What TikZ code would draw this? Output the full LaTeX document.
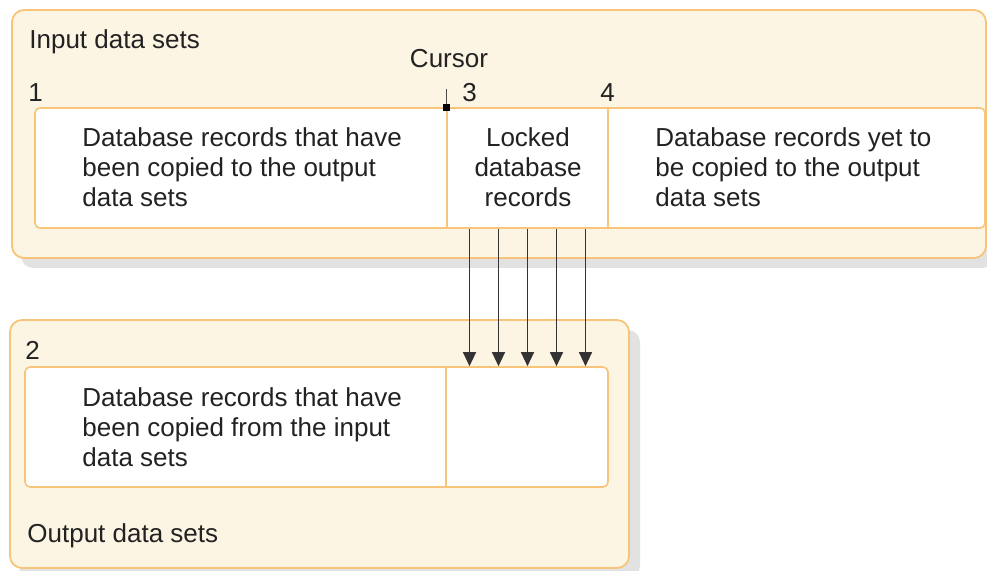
\documentclass[tikz,border=0pt]{standalone}
\usepackage{fontspec}
\setmainfont{Liberation Sans}
\usetikzlibrary{arrows.meta}

\definecolor{panelfill}{HTML}{FDF5E4}
\definecolor{paneledge}{HTML}{F7C47A}
\definecolor{shadowgray}{HTML}{E2E2E2}
\definecolor{inkgray}{HTML}{222222}

\begin{document}
\begin{tikzpicture}[x=0.5pt, y=-0.5pt,
    panel/.style={draw=paneledge, fill=panelfill, line width=0.9pt, rounded corners=6pt},
    shade/.style={fill=shadowgray, rounded corners=6pt},
    frame/.style={draw=paneledge, fill=white, line width=0.8pt, rounded corners=2.5pt},
    cell/.style={draw=paneledge, line width=0.8pt, minimum width=80.5pt, minimum height=60pt, inner sep=0pt},
    txt/.style={font=\fontsize{13}{15}\selectfont, text=inkgray, inner sep=0pt},
    body/.style={txt, align=left, anchor=base west},
    flow/.style={-{Triangle[width=6.5pt, length=7pt]}, draw=black!80, line width=0.6pt}]
    \useasboundingbox (0,0) rectangle (987,571);

    % Input data sets
    \fill[shade] (21,20) rectangle (995,268);
    \draw[panel] (12,10) rectangle (986,258);
    \node[txt, anchor=base west] (intitle) at (29,49) {Input data sets};
    \draw[frame] (35,108) rectangle (985,228);
    \node[cell] (locked) at (527.5,168) {};
    \node[txt, anchor=base west] (one) at (28,102) {1};
    \node[txt, anchor=base west] (three) at (462,102) {3};
    \node[txt, anchor=base west] (four) at (600,102) {4};
    % multi-line texts sit on the base of their last line
    \node[body] (copied) at (82,207)
        {Database records that have\\been copied to the output\\data sets};
    \node[txt, align=center, anchor=base] (lockedtxt) at (528,207)
        {Locked\\database\\records};
    \node[body] (pending) at (655,207)
        {Database records yet to\\be copied to the output\\data sets};

    % Cursor
    \node[txt, anchor=base] (cursor) at (449,68) {Cursor};
    \draw[black!70, line width=0.7pt, shorten <=10pt] (cursor.south -| locked.north west) -- (locked.north west);
    \fill[black] ([shift={(-3.5,-3.5)}]locked.north west) rectangle ++(7,7);

    % Output data sets
    \fill[shade] (19,330) rectangle (640,578);
    \draw[panel] (10,320) rectangle (629,568);
    \draw[frame] (25,367) rectangle (608,487);
    \node[cell, draw=none] (received) at (527.5,427) {};
    \draw[paneledge, line width=0.8pt] (received.north west) -- (received.south west);
    \node[txt, anchor=base west] (two) at (25,360) {2};
    \node[body] (copiedout) at (82,467)
        {Database records that have\\been copied from the input\\data sets};
    \node[txt, anchor=base west] (outtitle) at (27,543) {Output data sets};

    % Records being copied
    \foreach \dx in {-58,-29,0,29,58}
        \draw[flow] ([shift={(\dx,0)}]locked.south) -- ([shift={(\dx,0)}]received.north);
\end{tikzpicture}
\end{document}
